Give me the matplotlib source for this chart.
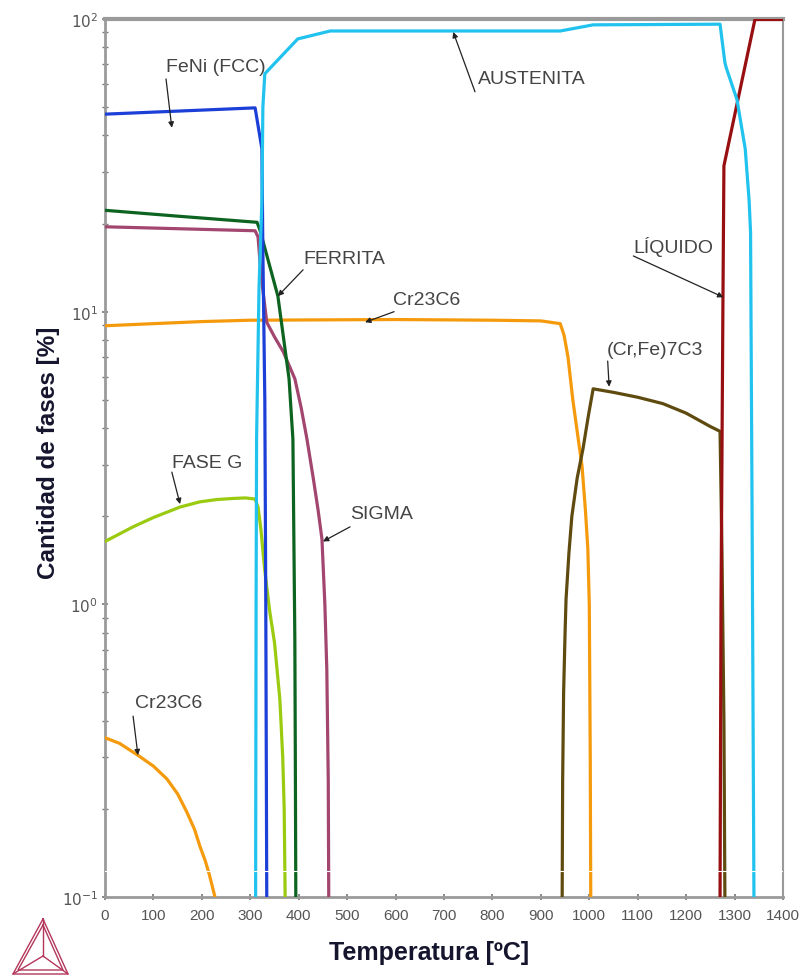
import matplotlib
matplotlib.use("Agg")
import matplotlib.pyplot as plt
from matplotlib.lines import Line2D
from matplotlib.ticker import LogLocator, FixedLocator, NullFormatter

plt.rcParams['font.family'] = ['Liberation Sans', 'DejaVu Sans']

# ---- phase fraction curves (temperature in ºC, amount in %) ----
austenita_t = [311, 312, 313, 318, 324, 326, 330, 398, 465, 940, 1008, 1270, 1280, 1283,
               1305, 1322, 1330, 1333, 1336, 1340]
austenita_v = [0.1, 1.0, 3.7, 12, 24, 50, 65, 85.5, 91, 91, 95.5, 96, 71, 68,
               53, 36, 24, 18.7, 2.3, 0.1]

feni_t = [0, 310, 324, 326, 330, 332, 334]
feni_v = [47.3, 49.7, 36, 16, 5, 1, 0.1]

ferrita_t = [0, 150, 314, 320, 357, 380, 388, 392, 393, 394]
ferrita_v = [22.2, 21.2, 20.2, 19.0, 11.3, 5.9, 3.67, 0.76, 0.3, 0.1]

sigma_t = [0, 310, 316, 322, 334, 350, 368, 392, 405, 417, 430, 440, 448, 454, 458, 461, 462]
sigma_v = [19.5, 18.9, 18.0, 13.5, 9.2, 8.2, 7.3, 5.9, 4.7, 3.67, 2.7, 2.1, 1.67, 1.0,
           0.6, 0.25, 0.1]

cr23c6_t = [0, 100, 200, 300, 600, 800, 900, 940, 948, 956, 966, 975, 985, 992, 997,
            1000, 1002, 1003]
cr23c6_v = [8.95, 9.1, 9.25, 9.35, 9.4, 9.35, 9.3, 9.1, 8.3, 7.0, 5.0, 3.9, 2.97, 2.1,
            1.55, 1.0, 0.3, 0.1]

cr23c6_low_t = [0, 30, 68, 100, 128, 150, 169, 185, 196, 207, 215, 222, 227]
cr23c6_low_v = [0.35, 0.335, 0.305, 0.28, 0.253, 0.225, 0.195, 0.17, 0.149, 0.133,
                0.12, 0.108, 0.1]

faseg_t = [0, 58, 100, 155, 196, 230, 264, 290, 310, 316, 322, 330, 340, 350, 361, 367,
           370, 372]
faseg_v = [1.64, 1.84, 1.98, 2.15, 2.24, 2.28, 2.30, 2.31, 2.29, 2.15, 1.8, 1.3, 0.95,
           0.74, 0.475, 0.3, 0.2, 0.1]

m7c3_t = [944, 945, 947, 950, 952, 958, 964, 975, 987, 998, 1008, 1050, 1100, 1152, 1200,
          1250, 1270, 1274, 1278, 1280]
m7c3_v = [0.1, 0.25, 0.5, 0.8, 1.04, 1.5, 2.0, 2.7, 3.4, 4.4, 5.45, 5.3, 5.1, 4.85, 4.5,
          4.05, 3.9, 1.5, 0.4, 0.1]

liquido_t = [1270, 1272, 1276, 1278, 1342, 1400]
liquido_v = [0.1, 1.0, 11, 31.5, 99.6, 99.6]

x_ticks = list(range(0, 1401, 100))
y_ticks = [0.1, 1, 10, 100]
y_tick_labels = [r'$10^{-1}$', r'$10^{0}$', r'$10^{1}$', r'$10^{2}$']

# label text, text anchor (T, %), arrow start (T, %), arrow tip (T, %)
labels = [
    ("FeNi (FCC)", (126, 69), (126, 62.4), (138, 42.5)),
    ("AUSTENITA", (770, 62.4), (764, 56.4), (719, 90.3)),
    ("FERRITA", (409, 15.2), (409, 13.9), (357, 11.3)),
    ("Cr23C6", (595, 11.0), (597, 10.0), (537, 9.2)),
    ("(Cr,Fe)7C3", (1036, 7.45), (1038, 6.78), (1041, 5.54)),
    ("LÍQUIDO", (1091, 16.7), (1091, 15.5), (1277, 11.2)),
    ("FASE G", (138, 3.06), (138, 2.83), (155, 2.2)),
    ("SIGMA", (506, 2.04), (506, 1.84), (450, 1.64)),
    ("Cr23C6", (62, 0.463), (58, 0.415), (68, 0.305)),
]

fig = plt.figure(figsize=(8.06, 9.79), dpi=100)
ax = fig.add_axes([105 / 806, 1 - 898 / 979, 678 / 806, 878 / 979])

lw = 2.3
ax.plot(cr23c6_low_t, cr23c6_low_v, color='#f59a0c', lw=lw, zorder=3)
ax.plot(cr23c6_t, cr23c6_v, color='#f59a0c', lw=lw, zorder=3)
ax.plot(faseg_t, faseg_v, color='#9acb10', lw=lw, zorder=3)
ax.plot(sigma_t, sigma_v, color='#a2466f', lw=lw, zorder=3)
ax.plot(ferrita_t, ferrita_v, color='#0d6420', lw=lw, zorder=3)
ax.plot(feni_t, feni_v, color='#1c3fd8', lw=lw, zorder=4)
ax.plot(m7c3_t, m7c3_v, color='#5f4b10', lw=lw, zorder=3)
ax.plot(liquido_t, liquido_v, color='#980f12', lw=lw, zorder=4)
ax.plot(austenita_t, austenita_v, color='#21c3ee', lw=lw, zorder=4)

# faint white break across the lines near the bottom
ax.axhline(0.123, color='white', lw=0.8, zorder=5)

ax.set_yscale('log')
ax.set_xlim(0, 1400)
ax.set_ylim(0.1, 100)

ax.xaxis.set_major_locator(FixedLocator(x_ticks))
ax.set_xticklabels([str(t) for t in x_ticks])
ax.yaxis.set_major_locator(FixedLocator(y_ticks))
ax.set_yticklabels(y_tick_labels)
ax.yaxis.set_minor_locator(LogLocator(base=10, subs=range(2, 10), numticks=20))
ax.yaxis.set_minor_formatter(NullFormatter())

ax.tick_params(axis='both', which='major', direction='inout', length=4, width=1.2,
               color='#777777', labelcolor='#555555', labelsize=11, pad=6)
ax.tick_params(axis='y', which='major', labelsize=11, pad=3)
ax.tick_params(axis='y', which='minor', direction='inout', length=4, width=1.0,
               color='#777777')

for side, w in (('top', 3.0), ('left', 2.0), ('bottom', 2.0), ('right', 1.5)):
    ax.spines[side].set_color('#9a9a9a')
    ax.spines[side].set_linewidth(w)

ax.set_xlabel('Temperatura [ºC]', fontsize=18, fontweight='bold', color='#15152e')
ax.set_ylabel('Cantidad de fases [%]', fontsize=17.5, fontweight='bold', color='#15152e')
ax.xaxis.set_label_coords(0.478, -0.049)
ax.yaxis.set_label_coords(-0.066, 0.507)

for text, tpos, astart, aend in labels:
    ax.text(tpos[0], tpos[1], text, fontsize=14, color='#444444', ha='left', va='center',
            zorder=6)
    ax.annotate('', xy=aend, xytext=astart,
                arrowprops=dict(arrowstyle='-|>', color='#222222', lw=0.9,
                                mutation_scale=8, shrinkA=0, shrinkB=0),
                zorder=6)

# Thermo-Calc style triangle emblem in the lower-left corner
def fpt(x, y):
    return x / 806, 1 - y / 979

logo_c = '#b4365a'
top, bl, br, ctr = (43, 920), (13, 975), (68, 975), (43, 957)
top2, bl2, br2 = (43, 926), (18, 971), (63, 971)
for tri in ((top, bl, br, top), (top2, bl2, br2, top2)):
    xs, ys = zip(*[fpt(*p) for p in tri])
    fig.add_artist(Line2D(xs, ys, color=logo_c, lw=1.0, transform=fig.transFigure))
for v in (top, bl, br):
    xs, ys = zip(fpt(*ctr), fpt(*v))
    fig.add_artist(Line2D(xs, ys, color=logo_c, lw=1.0, transform=fig.transFigure))

fig.savefig('out.png', dpi=100)
